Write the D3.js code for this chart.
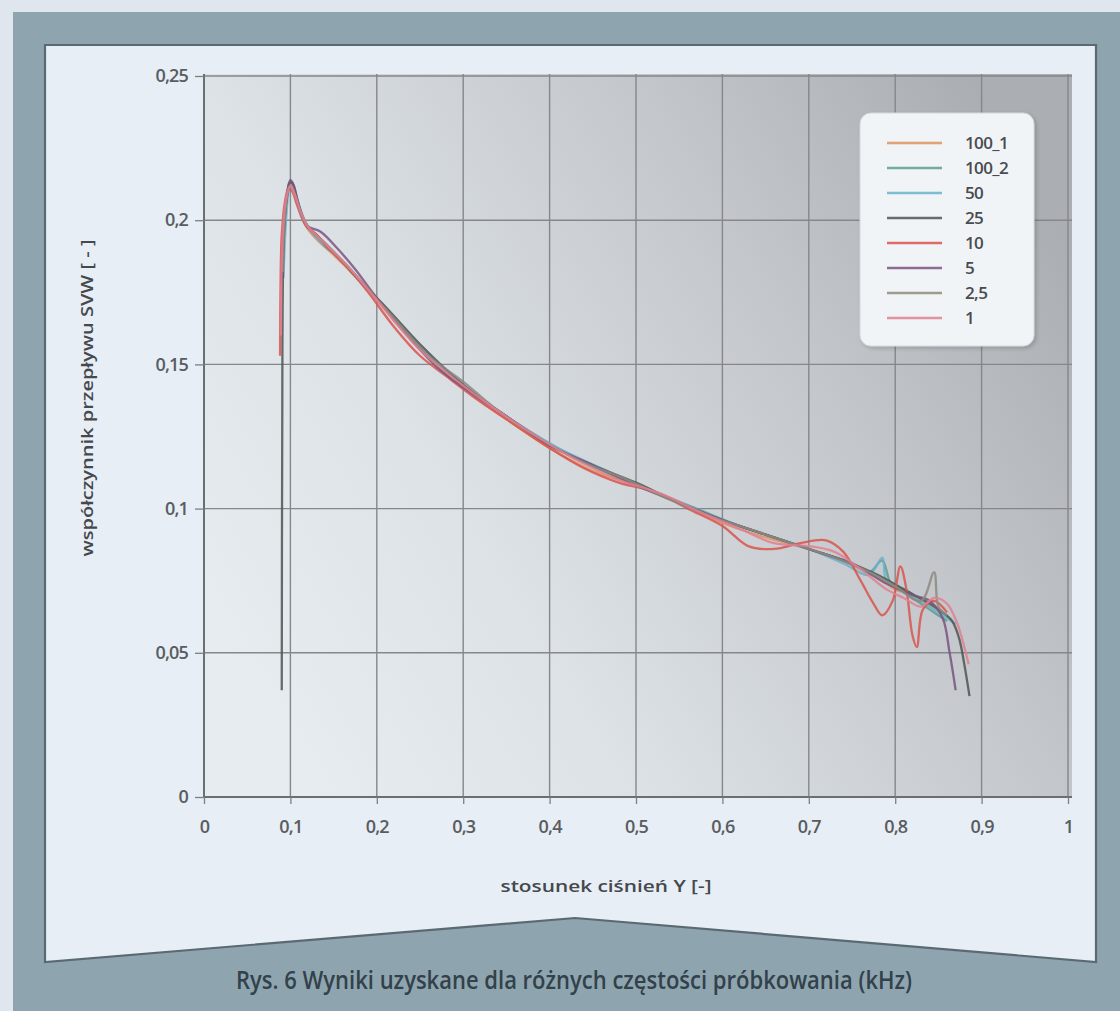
<!DOCTYPE html>
<html>
<head>
<meta charset="utf-8">
<script src="https://cdn.jsdelivr.net/npm/d3@7"></script>
<style>
  html, body { margin: 0; padding: 0; background: #dfe6ee; }
  svg { display: block; }
  text { font-family: "Open Sans", "Noto Sans", sans-serif; }
</style>
</head>
<body>
<svg id="chart" width="1120" height="1011"></svg>
<script>
// Tick values on both axes
const xTicks = [0, 0.1, 0.2, 0.3, 0.4, 0.5, 0.6, 0.7, 0.8, 0.9, 1];
const yTicks = [0, 0.05, 0.1, 0.15, 0.2, 0.25];

// Sampling frequencies (kHz), in legend order
const seriesNames = ["100_1", "100_2", "50", "25", "10", "5", "2,5", "1"];
const seriesColors = ["#e0935f", "#5a9e93", "#69b3cc", "#4a5650", "#d9534c", "#7a5480", "#8c8b7c", "#e27f90"];

// Measured SVW flow coefficient vs. pressure ratio Y, one array per frequency: [Y, SVW]
const s100_1 = [[0.092,0.19],[0.095,0.205],[0.099,0.212],[0.103,0.211],[0.11,0.204],[0.12,0.197],[0.135,0.192],[0.15,0.188],[0.17,0.182],[0.2,0.173],[0.23,0.162],[0.26,0.152],[0.3,0.142],[0.35,0.131],[0.4,0.121],[0.45,0.113],[0.5,0.108],[0.55,0.102],[0.6,0.095],[0.65,0.09],[0.7,0.086],[0.73,0.083],[0.76,0.079],[0.78,0.076],[0.8,0.072],[0.82,0.07],[0.84,0.066],[0.86,0.063]];
const s100_2 = [[0.091,0.185],[0.094,0.203],[0.098,0.211],[0.101,0.213],[0.105,0.21],[0.112,0.203],[0.12,0.198],[0.14,0.191],[0.16,0.186],[0.19,0.176],[0.22,0.166],[0.25,0.156],[0.29,0.145],[0.33,0.136],[0.37,0.128],[0.42,0.119],[0.47,0.112],[0.52,0.106],[0.57,0.1],[0.62,0.094],[0.67,0.089],[0.71,0.085],[0.75,0.081],[0.77,0.078],[0.785,0.082],[0.795,0.074],[0.81,0.071],[0.83,0.067],[0.845,0.064],[0.86,0.061]];
const s50 = [[0.092,0.18],[0.095,0.2],[0.099,0.211],[0.102,0.212],[0.108,0.207],[0.118,0.199],[0.13,0.194],[0.15,0.189],[0.18,0.179],[0.21,0.169],[0.24,0.159],[0.28,0.147],[0.32,0.138],[0.36,0.13],[0.41,0.121],[0.46,0.114],[0.51,0.107],[0.56,0.101],[0.61,0.095],[0.66,0.09],[0.7,0.086],[0.74,0.081],[0.77,0.077],[0.785,0.083],[0.79,0.075],[0.81,0.072],[0.83,0.068],[0.85,0.064],[0.87,0.06]];
const s25 = [[0.09,0.037],[0.0905,0.12],[0.092,0.19],[0.095,0.206],[0.099,0.213],[0.102,0.213],[0.108,0.207],[0.117,0.199],[0.13,0.195],[0.15,0.189],[0.18,0.179],[0.21,0.17],[0.25,0.157],[0.3,0.143],[0.35,0.132],[0.4,0.122],[0.45,0.115],[0.5,0.109],[0.55,0.102],[0.6,0.096],[0.65,0.091],[0.7,0.086],[0.74,0.082],[0.78,0.077],[0.81,0.072],[0.84,0.067],[0.855,0.064],[0.866,0.061],[0.874,0.055],[0.88,0.046],[0.886,0.035]];
const s10 = [[0.088,0.153],[0.0885,0.175],[0.09,0.195],[0.094,0.207],[0.098,0.211],[0.102,0.21],[0.108,0.205],[0.118,0.198],[0.13,0.195],[0.145,0.19],[0.165,0.184],[0.19,0.175],[0.22,0.163],[0.25,0.153],[0.28,0.146],[0.32,0.137],[0.36,0.129],[0.4,0.121],[0.44,0.114],[0.48,0.109],[0.52,0.106],[0.56,0.1],[0.6,0.094],[0.63,0.087],[0.66,0.086],[0.69,0.088],[0.72,0.089],[0.74,0.085],[0.76,0.075],[0.775,0.067],[0.785,0.063],[0.797,0.068],[0.806,0.08],[0.813,0.072],[0.82,0.056],[0.825,0.052],[0.832,0.065],[0.845,0.068],[0.86,0.064]];
const s5 = [[0.09,0.178],[0.093,0.2],[0.097,0.21],[0.1,0.214],[0.104,0.212],[0.11,0.205],[0.12,0.198],[0.135,0.196],[0.155,0.19],[0.175,0.183],[0.2,0.173],[0.23,0.162],[0.27,0.149],[0.31,0.14],[0.35,0.132],[0.4,0.122],[0.45,0.115],[0.5,0.108],[0.55,0.102],[0.6,0.096],[0.65,0.091],[0.7,0.086],[0.75,0.081],[0.79,0.074],[0.82,0.07],[0.84,0.068],[0.855,0.062],[0.863,0.05],[0.87,0.037]];
const s2_5 = [[0.091,0.182],[0.094,0.202],[0.098,0.211],[0.101,0.212],[0.106,0.208],[0.115,0.2],[0.125,0.196],[0.14,0.192],[0.16,0.186],[0.19,0.176],[0.22,0.166],[0.26,0.153],[0.3,0.144],[0.34,0.134],[0.39,0.124],[0.44,0.116],[0.49,0.11],[0.54,0.103],[0.59,0.097],[0.64,0.092],[0.69,0.087],[0.73,0.083],[0.77,0.078],[0.8,0.073],[0.83,0.068],[0.845,0.078],[0.85,0.066],[0.86,0.063]];
const s1 = [[0.089,0.16],[0.09,0.185],[0.093,0.203],[0.097,0.21],[0.1,0.212],[0.105,0.209],[0.112,0.203],[0.12,0.198],[0.14,0.192],[0.16,0.186],[0.19,0.176],[0.22,0.165],[0.25,0.155],[0.29,0.145],[0.33,0.136],[0.38,0.126],[0.43,0.117],[0.48,0.11],[0.53,0.105],[0.58,0.098],[0.62,0.093],[0.66,0.088],[0.7,0.087],[0.73,0.085],[0.76,0.079],[0.79,0.072],[0.81,0.069],[0.83,0.066],[0.845,0.069],[0.86,0.067],[0.872,0.06],[0.88,0.052],[0.885,0.046]];

const seriesData = [s100_1, s100_2, s50, s25, s10, s5, s2_5, s1];

const xTitle = "stosunek ciśnień Y [-]";
const yTitle = "współczynnik przepływu SVW [ - ]";
const caption = "Rys. 6 Wyniki uzyskane dla różnych częstości próbkowania (kHz)";

const svg = d3.select("#chart");
const W = 1120, H = 1011;
const fmt = v => String(v).replace(".", ",");

// ---- page frame ----
const defs = svg.append("defs");
const bg = defs.append("linearGradient").attr("id", "plotBg")
  .attr("x1", "0").attr("y1", "0.75").attr("x2", "1").attr("y2", "0.25");
bg.append("stop").attr("offset", "0").attr("stop-color", "#e7ecf1");
bg.append("stop").attr("offset", "0.3").attr("stop-color", "#dde2e7");
bg.append("stop").attr("offset", "0.7").attr("stop-color", "#c3c7cb");
bg.append("stop").attr("offset", "1").attr("stop-color", "#abafb3");

const sh = defs.append("filter").attr("id", "legShadow").attr("x", "-10%").attr("y", "-10%").attr("width", "130%").attr("height", "130%");
sh.append("feDropShadow").attr("dx", 2).attr("dy", 2).attr("stdDeviation", 2).attr("flood-color", "#000").attr("flood-opacity", 0.18);

svg.append("rect").attr("width", W).attr("height", H).attr("fill", "#dfe6ee");
svg.append("rect").attr("x", 13).attr("y", 12).attr("width", W - 13).attr("height", H - 12).attr("fill", "#8ea5b0");

svg.append("path")
  .attr("d", "M45,45 L1096,45 L1096,962 L575,918 L45,962 Z")
  .attr("fill", "#e7eef5")
  .attr("stroke", "#5b6a72")
  .attr("stroke-width", 2.2)
  .attr("stroke-linejoin", "miter");

svg.append("text")
  .attr("x", 574).attr("y", 989)
  .attr("text-anchor", "middle")
  .attr("font-size", 25).attr("font-weight", 600)
  .attr("fill", "#33414a")
  .attr("textLength", 676).attr("lengthAdjust", "spacingAndGlyphs")
  .text(caption);

// ---- plot ----
const pLeft = 204, pRight = 1068, pTop = 76, pBottom = 797;
const x = d3.scaleLinear().domain([0, 1]).range([pLeft, pRight]);
const y = d3.scaleLinear().domain([0, 0.25]).range([pBottom, pTop]);

svg.append("rect")
  .attr("x", pLeft).attr("y", pTop - 2)
  .attr("width", pRight - pLeft + 4).attr("height", pBottom - pTop + 2)
  .attr("fill", "url(#plotBg)");

// grid
const grid = svg.append("g");
grid.selectAll(".vg").data(xTicks.slice(1)).join("line")
  .attr("x1", d => x(d)).attr("x2", d => x(d))
  .attr("y1", pTop - 2).attr("y2", pBottom)
  .attr("stroke", "#85878a").attr("stroke-width", 1.4);
grid.selectAll(".hg").data(yTicks.slice(1)).join("line")
  .attr("x1", pLeft).attr("x2", pRight + 4)
  .attr("y1", d => y(d)).attr("y2", d => y(d))
  .attr("stroke", "#85878a").attr("stroke-width", 1.4);

// axes
const xAxis = svg.append("g").attr("transform", `translate(0,${pBottom})`)
  .call(d3.axisBottom(x).tickValues(xTicks).tickFormat(fmt).tickSize(7).tickPadding(16));
const yAxis = svg.append("g").attr("transform", `translate(${pLeft},0)`)
  .call(d3.axisLeft(y).tickValues(yTicks).tickFormat(fmt).tickSize(9).tickPadding(7));
[xAxis, yAxis].forEach(g => {
  g.select(".domain").attr("stroke", "#6c6f72").attr("stroke-width", 2);
  g.selectAll(".tick line").attr("stroke", "#7d8083").attr("stroke-width", 1.3);
  g.selectAll(".tick text")
    .attr("font-size", 18).attr("font-weight", 600).attr("fill", "#595c60")
    .attr("letter-spacing", -0.8)
    .style("font-family", "'Open Sans', sans-serif");
});
xAxis.select(".domain").attr("d", `M${pLeft},0H${pRight + 4}`);
yAxis.select(".domain").attr("d", `M0,${pBottom}V${pTop - 2}`);

// series lines
const line = d3.line()
  .x(d => x(d[0])).y(d => y(d[1]))
  .curve(d3.curveCatmullRom.alpha(0.5));

const lines = svg.append("g").attr("fill", "none");
seriesData.forEach((data, i) => {
  lines.append("path")
    .datum(data)
    .attr("d", line)
    .attr("stroke", seriesColors[i])
    .attr("stroke-width", 2.3)
    .attr("stroke-opacity", 0.85)
    .attr("stroke-linejoin", "round");
});

// axis titles
svg.append("text")
  .attr("x", 606).attr("y", 892)
  .attr("text-anchor", "middle")
  .attr("font-size", 16).attr("font-weight", 600).attr("fill", "#45484c")
  .attr("textLength", 211).attr("lengthAdjust", "spacingAndGlyphs")
  .text(xTitle);

svg.append("text")
  .attr("transform", "translate(93,398) rotate(-90)")
  .attr("text-anchor", "middle")
  .attr("font-size", 16).attr("font-weight", 600).attr("fill", "#45484c")
  .attr("textLength", 317).attr("lengthAdjust", "spacingAndGlyphs")
  .text(yTitle);

// legend
const legend = svg.append("g");
legend.append("rect")
  .attr("x", 860).attr("y", 113).attr("width", 174).attr("height", 233)
  .attr("rx", 11).attr("ry", 11)
  .attr("fill", "#f1f4f7").attr("stroke", "#d3d8dd").attr("stroke-width", 1)
  .attr("filter", "url(#legShadow)");
const rowY = d3.scalePoint().domain(seriesNames).range([143, 318]);
seriesNames.forEach((name, i) => {
  legend.append("line")
    .attr("x1", 887).attr("x2", 942)
    .attr("y1", rowY(name)).attr("y2", rowY(name))
    .attr("stroke", seriesColors[i]).attr("stroke-width", 2.4).attr("stroke-opacity", 0.85);
  legend.append("text")
    .attr("x", 965).attr("y", rowY(name))
    .attr("dy", "0.35em")
    .attr("font-size", 17).attr("font-weight", 600).attr("fill", "#484b4f")
    .attr("letter-spacing", -0.6)
    .text(name);
});
</script>
</body>
</html>
